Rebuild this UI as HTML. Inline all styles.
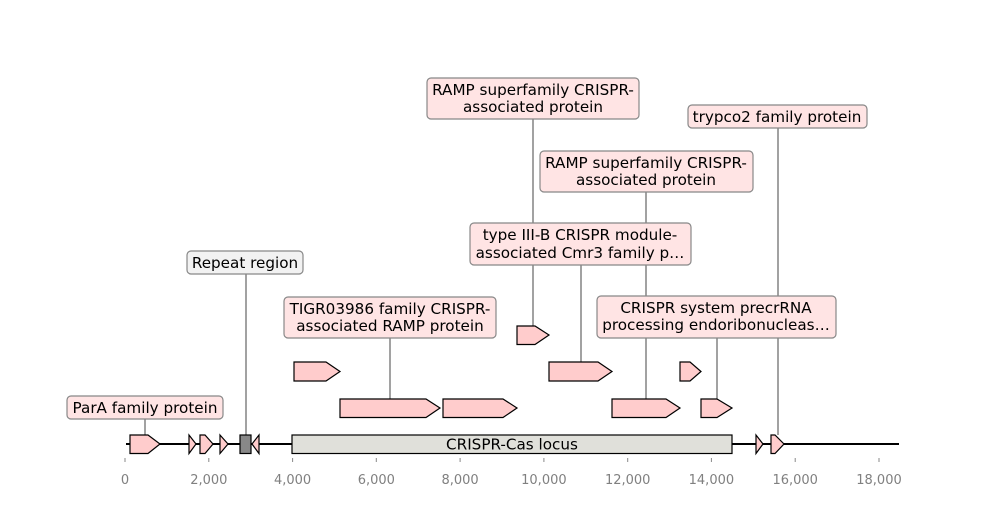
<!DOCTYPE html>
<html><head><meta charset="utf-8"><style>
html,body{margin:0;padding:0;background:#fff;}
svg{display:block;font-family:"DejaVu Sans","Liberation Sans",sans-serif;}
</style></head><body>
<svg width="1000" height="520" viewBox="0 0 1000 520" xmlns="http://www.w3.org/2000/svg">
<g stroke="#444" stroke-width="1">
<line x1="145" y1="419" x2="145" y2="435"/>
<line x1="246" y1="274" x2="246" y2="435"/>
<line x1="390" y1="338" x2="390" y2="399"/>
<line x1="581" y1="265" x2="581" y2="362"/>
<line x1="533" y1="119" x2="533" y2="326"/>
<line x1="646" y1="192" x2="646" y2="399"/>
<line x1="778" y1="128" x2="778" y2="435"/>
<line x1="717" y1="338" x2="717" y2="399"/>
</g>
<line x1="126" y1="444" x2="899" y2="444" stroke="#000" stroke-width="2"/>
<g stroke="#000" stroke-width="1.2" fill="#ffcccc" stroke-linejoin="miter">
<polygon points="130,435 148,435 160,444 148,453.5 130,453.5"/>
<polygon points="189,435 196,444 189,453.5"/>
<polygon points="200,435 205,435 213,444 205,453.5 200,453.5"/>
<polygon points="220,435 228,444 220,453.5"/>
<rect x="240" y="435" width="11" height="18.5" fill="#888"/>
<polygon points="259,435 252,444 259,453.5"/>
<rect x="292" y="435" width="440" height="18.5" fill="#e0e0da"/>
<polygon points="756,435 763,444 756,453.5"/>
<polygon points="771,435 775,435 784,444 775,453.5 771,453.5"/>
<polygon points="340,399 426,399 440,408 426,417.5 340,417.5"/>
<polygon points="443,399 503,399 517,408 503,417.5 443,417.5"/>
<polygon points="612,399 666,399 680,408 666,417.5 612,417.5"/>
<polygon points="701,399 717,399 732,408 717,417.5 701,417.5"/>
<polygon points="294,362 326,362 340,371.5 326,381 294,381"/>
<polygon points="549,362 598,362 612,371.5 598,381 549,381"/>
<polygon points="680,362 690,362 701,371.5 690,381 680,381"/>
<polygon points="517,326 535,326 549,335 535,344.5 517,344.5"/>
</g>
<text x="512" y="449.5" font-size="15.2" text-anchor="middle" fill="#000">CRISPR-Cas locus</text>
<g stroke="#888" stroke-width="1.2" fill="#ffe4e4">
<rect x="67" y="396" width="156" height="23" rx="4"/>
<rect x="187" y="251" width="116" height="23" rx="4" fill="#f2f2f2"/>
<rect x="284" y="297" width="212" height="41" rx="4"/>
<rect x="470" y="223" width="221" height="42" rx="4"/>
<rect x="427" y="78" width="212" height="41" rx="4"/>
<rect x="540" y="151" width="213" height="41" rx="4"/>
<rect x="688" y="105" width="179" height="23" rx="4"/>
<rect x="597" y="296" width="239" height="42" rx="4"/>
</g>
<g font-size="15.2" text-anchor="middle" fill="#000">
<text x="145" y="413">ParA family protein</text>
<text x="245" y="268">Repeat region</text>
<text x="390" y="314">TIGR03986 family CRISPR-</text>
<text x="390" y="331">associated RAMP protein</text>
<text x="580" y="240">type III-B CRISPR module-</text>
<text x="580" y="258">associated Cmr3 family p…</text>
<text x="533" y="95">RAMP superfamily CRISPR-</text>
<text x="533" y="112">associated protein</text>
<text x="646" y="168">RAMP superfamily CRISPR-</text>
<text x="646" y="185">associated protein</text>
<text x="777" y="122">trypco2 family protein</text>
<text x="716" y="313">CRISPR system precrRNA</text>
<text x="716" y="330">processing endoribonucleas…</text>
</g>
<g stroke="#888" stroke-width="1">
<line x1="125" y1="458" x2="125" y2="462"/><line x1="208.8" y1="458" x2="208.8" y2="462"/>
<line x1="292.6" y1="458" x2="292.6" y2="462"/><line x1="376.3" y1="458" x2="376.3" y2="462"/>
<line x1="460.1" y1="458" x2="460.1" y2="462"/><line x1="543.9" y1="458" x2="543.9" y2="462"/>
<line x1="627.7" y1="458" x2="627.7" y2="462"/><line x1="711.4" y1="458" x2="711.4" y2="462"/>
<line x1="795.2" y1="458" x2="795.2" y2="462"/><line x1="879" y1="458" x2="879" y2="462"/>
</g>
<g font-size="13" fill="#808080" text-anchor="middle">
<text x="125" y="484">0</text><text x="208.8" y="484">2,000</text><text x="292.6" y="484">4,000</text>
<text x="376.3" y="484">6,000</text><text x="460.1" y="484">8,000</text><text x="543.9" y="484">10,000</text>
<text x="627.7" y="484">12,000</text><text x="711.4" y="484">14,000</text><text x="795.2" y="484">16,000</text>
<text x="879" y="484">18,000</text>
</g>
</svg>
</body></html>
